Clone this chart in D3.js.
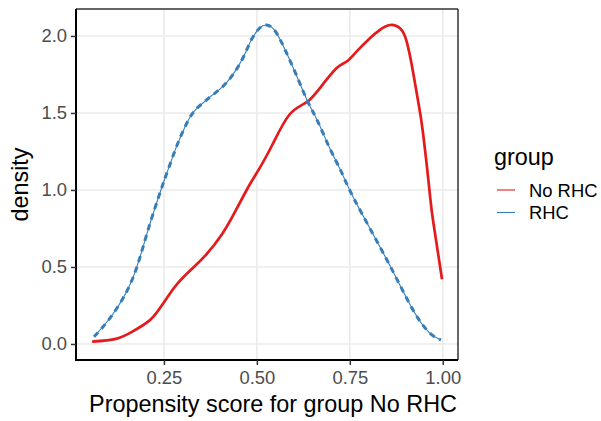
<!DOCTYPE html>
<html><head><meta charset="utf-8">
<script src="https://cdn.jsdelivr.net/npm/d3@7"></script>
<style>
body{margin:0;background:#fff;}
text{font-family:"Liberation Sans",Arial,Helvetica,sans-serif;}
</style></head>
<body><svg id="c" width="601" height="421"></svg>
<script>
const groups = ["No RHC", "RHC"];
const colors = ["#E41A1C", "#377EB8"];
const noRhcX = [0.057,0.121,0.165,0.210,0.237,0.264,0.291,0.327,0.363,0.408,0.444,0.480,0.507,0.543,0.588,0.633,0.669,0.714,0.741,0.768,0.804,0.831,0.858,0.885,0.903,0.920,0.934,0.947,0.965,0.974,0.998];
const noRhcY = [0.015,0.033,0.080,0.150,0.225,0.320,0.405,0.492,0.578,0.719,0.870,1.032,1.140,1.300,1.490,1.568,1.660,1.790,1.833,1.898,1.985,2.039,2.071,2.050,1.963,1.768,1.573,1.368,0.98,0.80,0.42];
const rhcX = [0.062,0.111,0.165,0.206,0.242,0.255,0.282,0.305,0.327,0.354,0.381,0.408,0.435,0.462,0.485,0.507,0.525,0.547,0.574,0.606,0.637,0.664,0.696,0.727,0.763,0.850,0.920,0.965,0.995];
const rhcY = [0.047,0.188,0.42,0.73,1.0,1.09,1.27,1.401,1.498,1.563,1.617,1.671,1.747,1.855,1.974,2.050,2.071,2.039,1.920,1.747,1.573,1.444,1.271,1.119,0.935,0.545,0.221,0.071,0.026];
const xTicks = [0.25,0.50,0.75,1.00];
const yTicks = [0.0,0.5,1.0,1.5,2.0];
const xTitle = "Propensity score for group No RHC";
const yTitle = "density";
const legendTitle = "group";

const svg = d3.select("#c");
const L=76, R=458, T=9, B=360;
const x = d3.scaleLinear().domain([0.0135,1.041]).range([L,R]);
const y = d3.scaleLinear().domain([-0.104,2.175]).range([B,T]);

const g = svg.append("g");
g.selectAll(".gx").data(xTicks).join("line")
 .attr("x1",d=>x(d)).attr("x2",d=>x(d)).attr("y1",T).attr("y2",B)
 .attr("stroke","#ebebeb").attr("stroke-width",1.6);
g.selectAll(".gy").data(yTicks).join("line")
 .attr("y1",d=>y(d)).attr("y2",d=>y(d)).attr("x1",L).attr("x2",R)
 .attr("stroke","#ebebeb").attr("stroke-width",1.6);

const line = d3.line().x(d=>x(d[0])).y(d=>y(d[1])).curve(d3.curveNatural);
const redData = noRhcX.map((v,i)=>[v,noRhcY[i]]);
const blueData = rhcX.map((v,i)=>[v,rhcY[i]]);

g.append("path").attr("d",line(redData)).attr("fill","none")
 .attr("stroke",colors[0]).attr("stroke-width",2.7).attr("stroke-linejoin","round");
g.append("path").attr("d",line(blueData)).attr("fill","none")
 .attr("stroke",colors[1]).attr("stroke-width",1.1);
g.append("path").attr("d",line(blueData)).attr("fill","none")
 .attr("stroke",colors[1]).attr("stroke-width",3).attr("stroke-dasharray","6,5");

svg.append("line").attr("x1",L).attr("x2",R).attr("y1",T).attr("y2",T).attr("stroke","#333").attr("stroke-width",1.5);
svg.append("line").attr("x1",R).attr("x2",R).attr("y1",T).attr("y2",B).attr("stroke","#333").attr("stroke-width",1.5);

const xa = svg.append("g").attr("transform",`translate(0,${B})`)
 .call(d3.axisBottom(x).tickValues(xTicks).tickFormat(d3.format(".2f")).tickSize(5).tickSizeOuter(0).tickPadding(6));
const ya = svg.append("g").attr("transform",`translate(${L},0)`)
 .call(d3.axisLeft(y).tickValues(yTicks).tickFormat(d3.format(".1f")).tickSize(5).tickSizeOuter(0).tickPadding(4));
[xa,ya].forEach(a=>{
  a.select(".domain").attr("stroke","#000").attr("stroke-width",2);
  a.selectAll(".tick line").attr("stroke","#333").attr("stroke-width",1.5);
  a.selectAll(".tick text").attr("fill","#4d4d4d").style("font-size","18.4px")
   .style("font-family",'"Liberation Sans",Arial,sans-serif');
});
xa.select(".domain").attr("d",`M${L-1},0H${R}`);
ya.select(".domain").attr("d",`M0,${T}V${B+1}`);

svg.append("text").attr("x",273).attr("y",412).attr("text-anchor","middle")
 .style("font-size","23.4px").attr("fill","#000").text(xTitle);
svg.append("text").attr("transform",`translate(28,${(T+B)/2}) rotate(-90)`).attr("text-anchor","middle")
 .style("font-size","23.4px").attr("fill","#000").text(yTitle);

svg.append("text").attr("x",494).attr("y",165).style("font-size","23.4px").text(legendTitle);
const lg = svg.selectAll(".lg").data(groups).join("g").attr("transform",(d,i)=>`translate(0,${190+i*22.5})`);
lg.append("line").attr("x1",497).attr("x2",515).attr("y1",0).attr("y2",0)
 .attr("stroke",(d,i)=>colors[i]).attr("stroke-width",1.1);
lg.append("text").attr("x",529).attr("y",6.5).style("font-size","18.4px").attr("fill","#000").text(d=>d);
</script></body></html>
